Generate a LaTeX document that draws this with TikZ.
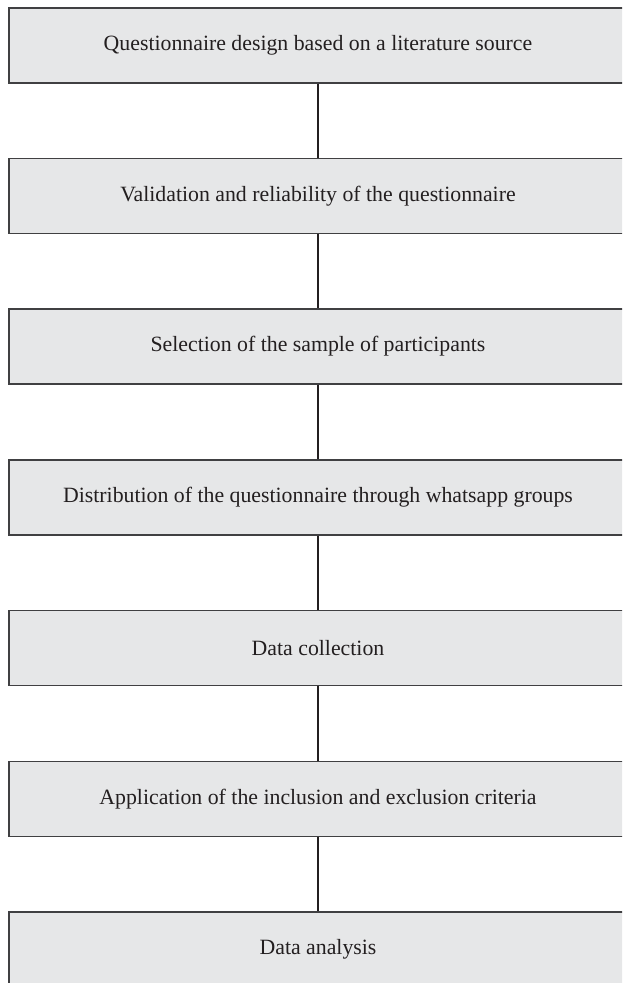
\documentclass[tikz,border=0pt]{standalone}
\usepackage{fontspec}
\setmainfont{Liberation Serif}
\usetikzlibrary{positioning}
\definecolor{boxgray}{RGB}{230,231,232}
\definecolor{boxborder}{RGB}{64,64,66}
\definecolor{linkblack}{RGB}{35,31,32}

\begin{document}
\begin{tikzpicture}[
                x=0.5pt, y=-0.5pt,
                stagebox/.style={shape=rectangle, fill=boxgray, draw=boxborder, line width=0.6pt,
                                 minimum width=309pt, minimum height=37.5pt, inner sep=0pt,
                                 font=\fontsize{10.9}{12}\selectfont, text=linkblack},
                link/.style={draw=linkblack, line width=0.75pt}
                ]
                %% Frame
                \useasboundingbox (0,0) rectangle (622,983);
                \clip (0,0) rectangle (622,983);

                %% Stages
                \node[stagebox] (design) at (318, 45.5) {Questionnaire design based on a literature source};
                \node[stagebox] (valid) at (318, 196) {Validation and reliability of the questionnaire};
                \node[stagebox] (sample) at (318, 346.5) {Selection of the sample of participants};
                \node[stagebox] (distrib) at (318, 497.5) {Distribution of the questionnaire through whatsapp groups};
                \node[stagebox] (collect) at (318, 648) {Data collection};
                \node[stagebox] (criteria) at (318, 799) {Application of the inclusion and exclusion criteria};
                \node[stagebox] (analysis) at (318, 949.5) {Data analysis};

                %% Links
                \draw[link] (design) -- (valid);
                \draw[link] (valid) -- (sample);
                \draw[link] (sample) -- (distrib);
                \draw[link] (distrib) -- (collect);
                \draw[link] (collect) -- (criteria);
                \draw[link] (criteria) -- (analysis);
\end{tikzpicture}
\end{document}
